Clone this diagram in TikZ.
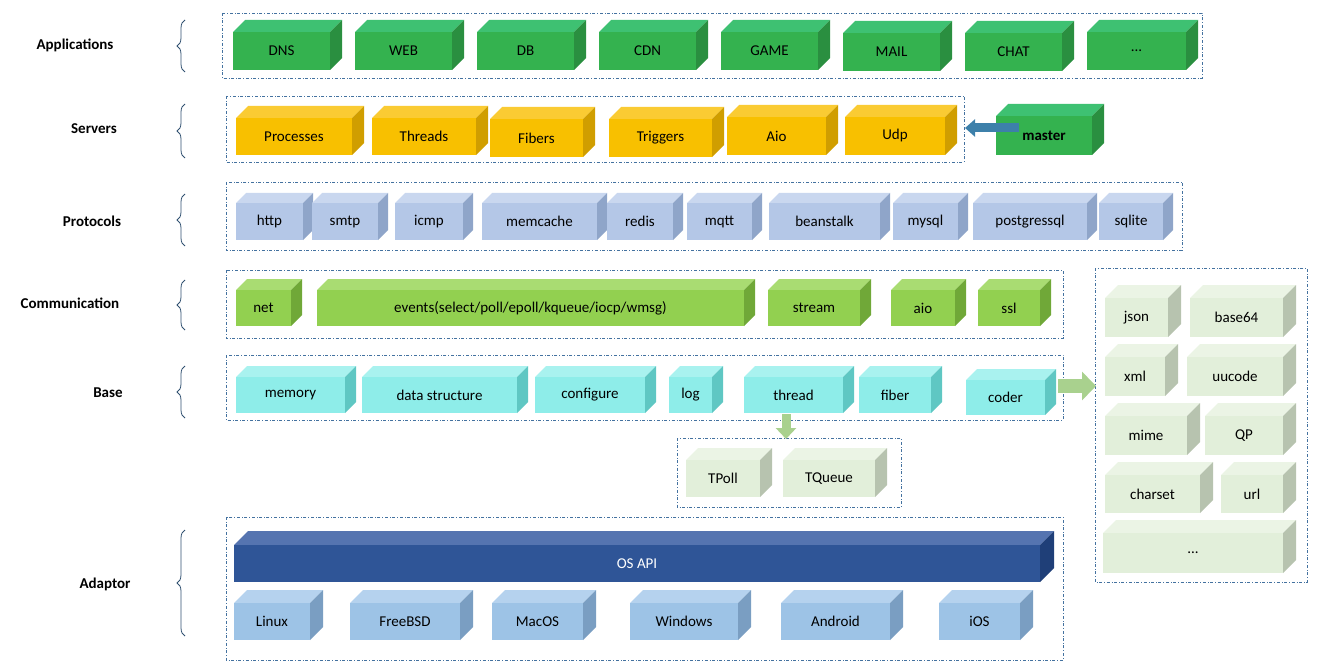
\documentclass[tikz,border=0pt]{standalone}
\usepackage{fontspec}
\setmainfont{Carlito}
\usetikzlibrary{decorations.pathreplacing,arrows.meta}
\definecolor{gF}{HTML}{34B24F}\definecolor{gT}{HTML}{3EC172}\definecolor{gS}{HTML}{2A8F40}
\definecolor{yF}{HTML}{F8C000}\definecolor{yT}{HTML}{FACB33}\definecolor{yS}{HTML}{D09E00}
\definecolor{pF}{HTML}{B4C7E7}\definecolor{pT}{HTML}{C9D7EF}\definecolor{pS}{HTML}{8FA5C9}
\definecolor{cF}{HTML}{92D050}\definecolor{cT}{HTML}{A9DC72}\definecolor{cS}{HTML}{70A838}
\definecolor{bF}{HTML}{8EEDE9}\definecolor{bT}{HTML}{A9F2EF}\definecolor{bS}{HTML}{5FC7C3}
\definecolor{eF}{HTML}{E2EFDA}\definecolor{eT}{HTML}{EBF4E5}\definecolor{eS}{HTML}{B7C3AF}
\definecolor{oF}{HTML}{2F5597}\definecolor{oT}{HTML}{5574B0}\definecolor{oS}{HTML}{1F3F78}
\definecolor{lF}{HTML}{9DC3E6}\definecolor{lT}{HTML}{B5D2EE}\definecolor{lS}{HTML}{7A9EC2}
\definecolor{frame}{HTML}{4472A0}
\definecolor{arrg}{HTML}{A9D18E}
\newcommand\cube[8]{%
  \fill[#7T] (#2,#3)--(#2+#6,#3-#6)--(#4+#6,#3-#6)--(#4,#3)--cycle;
  \fill[#7S] (#4,#3)--(#4+#6,#3-#6)--(#4+#6,#5-#6)--(#4,#5)--cycle;
  \fill[#7F] (#2,#3) rectangle (#4,#5);
  \node[txt] (#1) at ({(#2+#4)/2},{(#3+#5)/2}) {#8};}
\begin{document}
\begin{tikzpicture}[x=1pt,y=-1pt,
  txt/.style={inner sep=1pt,font=\fontsize{15}{17}\selectfont},
  lay/.style={font=\bfseries\fontsize{15}{17}\selectfont,inner sep=0},
  grp/.style={draw=frame,dash dot,line width=0.6pt},
  brc/.style={decorate,decoration={brace,amplitude=8pt},draw=frame!70!black,line width=0.8pt}]
\useasboundingbox (0,0) rectangle (1319,671);
% groups
\draw[grp] (222,13) rectangle (1202,78);
\draw[grp] (226,96) rectangle (964,162);
\draw[grp] (226,182) rectangle (1182,250);
\draw[grp] (226,270) rectangle (1063,338);
\draw[grp] (226,355) rectangle (1063,420);
\draw[grp] (677,438) rectangle (901,507);
\draw[grp] (1095,268) rectangle (1307,582);
\draw[grp] (226,517) rectangle (1063,660);
% labels
\node[lay] (lapp) at (75,45) {Applications};
\node[lay] (lsrv) at (94,129) {Servers};
\node[lay] (lpro) at (92,221) {Protocols};
\node[lay] (lcom) at (70,303) {Communication};
\node[lay] (lbas) at (108,393) {Base};
\node[lay] (lada) at (105,584) {Adaptor};
\draw[brc] (185,72) -- (185,20);
\draw[brc] (185,158) -- (185,104);
\draw[brc] (185,246) -- (185,194);
\draw[brc] (185,330) -- (185,280);
\draw[brc] (185,418) -- (185,366);
\draw[brc] (185,636) -- (185,530);
% applications
\cube{dns}{233}{32}{330}{70}{12}{g}{DNS}
\cube{web}{355}{32}{452}{70}{12}{g}{WEB}
\cube{db}{477}{32}{574}{70}{12}{g}{DB}
\cube{cdn}{599}{32}{696}{70}{12}{g}{CDN}
\cube{game}{721}{32}{818}{70}{12}{g}{GAME}
\cube{mail}{843}{33}{940}{71}{12}{g}{MAIL}
\cube{chat}{965}{33}{1062}{71}{12}{g}{CHAT}
\cube{more}{1087}{32}{1186}{70}{12}{g}{...}
% servers
\cube{proc}{236}{118}{352}{155}{12}{y}{Processes}
\cube{thr}{372}{118}{476}{155}{12}{y}{Threads}
\cube{fib}{490}{119}{583}{157}{12}{y}{Fibers}
\cube{trig}{609}{119}{712}{157}{12}{y}{Triggers}
\cube{aio}{727}{117}{826}{155}{12}{y}{Aio}
\cube{udp}{845}{117}{945}{155}{12}{y}{Udp}
\cube{master}{996}{116}{1092}{155}{12}{g}{\bfseries master}
\draw[line width=9pt,-{Triangle[width=17pt,length=10pt]},color=frame!90!cyan] (master.west|-0,128) ++(-2,0) -- (965,128);
% protocols
\cube{http}{236}{203}{303}{240}{10}{p}{http}
\cube{smtp}{312}{203}{378}{240}{10}{p}{smtp}
\cube{icmp}{395}{203}{463}{240}{10}{p}{icmp}
\cube{memc}{482}{203}{597}{240}{10}{p}{memcache}
\cube{redis}{607}{203}{673}{240}{10}{p}{redis}
\cube{mqtt}{687}{203}{752}{240}{10}{p}{mqtt}
\cube{bean}{769}{203}{880}{240}{10}{p}{beanstalk}
\cube{mysql}{893}{203}{958}{240}{10}{p}{mysql}
\cube{pg}{973}{203}{1087}{240}{10}{p}{postgressql}
\cube{sqlite}{1099}{203}{1163}{240}{10}{p}{sqlite}
% communication
\cube{net}{236}{290}{291}{326}{11}{c}{net}
\cube{events}{317}{290}{744}{326}{11}{c}{events(select/poll/epoll/kqueue/iocp/wmsg)}
\cube{stream}{768}{290}{860}{326}{11}{c}{stream}
\cube{caio}{891}{290}{955}{326}{11}{c}{aio}
\cube{ssl}{978}{290}{1040}{326}{11}{c}{ssl}
% base
\cube{mem}{236}{377}{345}{413}{11}{b}{memory}
\cube{ds}{362}{377}{517}{413}{11}{b}{data structure}
\cube{conf}{535}{377}{645}{413}{11}{b}{configure}
\cube{log}{669}{377}{712}{413}{11}{b}{log}
\cube{bthr}{744}{377}{843}{413}{11}{b}{thread}
\cube{bfib}{859}{377}{931}{413}{11}{b}{fiber}
\cube{coder}{966}{380}{1045}{415}{11}{b}{coder}
% thread sub
\cube{tpoll}{686}{460}{760}{497}{12}{e}{TPoll}
\cube{tqueue}{783}{460}{875}{497}{12}{e}{TQueue}
\draw[line width=9pt,-{Triangle[width=20pt,length=11pt]},color=arrg] (786,414) -- (786,439);
\draw[line width=14pt,-{Triangle[width=28pt,length=14pt]},color=arrg] (1058,386) -- (1096,386);
% encoders
\cube{json}{1105}{298}{1168}{337}{13}{e}{json}
\cube{b64}{1190}{298}{1283}{337}{13}{e}{base64}
\cube{xml}{1105}{357}{1165}{396}{13}{e}{xml}
\cube{uu}{1187}{357}{1283}{396}{13}{e}{uucode}
\cube{mime}{1105}{416}{1187}{455}{13}{e}{mime}
\cube{qp}{1205}{416}{1283}{455}{13}{e}{QP}
\cube{cs}{1105}{475}{1200}{513}{13}{e}{charset}
\cube{url}{1221}{475}{1283}{513}{13}{e}{url}
\cube{emore}{1103}{533}{1283}{573}{13}{e}{...}
% adaptor
\cube{osapi}{234}{545}{1040}{582}{14}{o}{\color{white}OS API}
\cube{linux}{234}{603}{310}{640}{13}{l}{Linux}
\cube{fbsd}{350}{603}{460}{640}{13}{l}{FreeBSD}
\cube{mac}{492}{603}{583}{640}{13}{l}{MacOS}
\cube{win}{630}{603}{738}{640}{13}{l}{Windows}
\cube{andr}{781}{603}{890}{640}{13}{l}{Android}
\cube{ios}{939}{603}{1020}{640}{13}{l}{iOS}
\end{tikzpicture}
\end{document}
